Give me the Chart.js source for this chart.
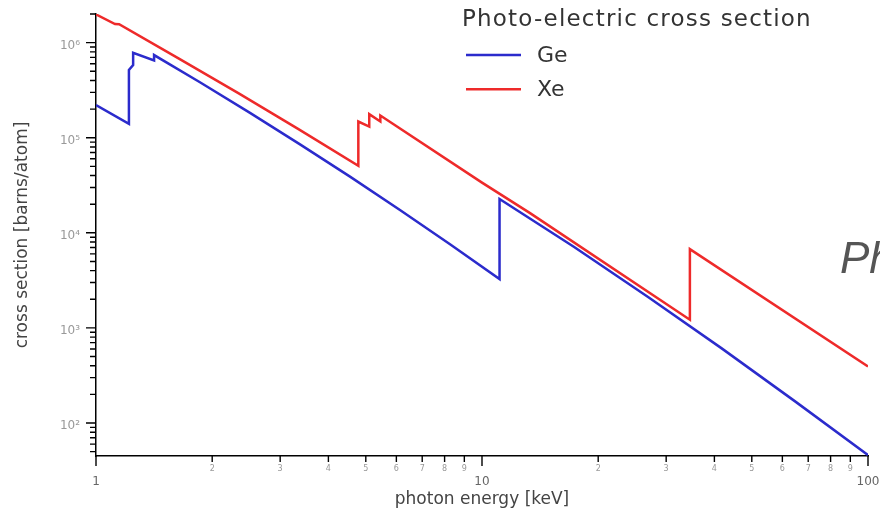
<!DOCTYPE html>
<html>
<head>
<meta charset="utf-8">
<script src="https://cdn.jsdelivr.net/npm/chart.js@4/dist/chart.umd.min.js"></script>
<style>
  html, body { margin: 0; padding: 0; background: #fff; overflow: hidden; }
  #wrap { position: relative; width: 880px; height: 516px; overflow: hidden; background: #fff; }
  #side { position: absolute; left: 840px; top: 236px; font: italic 44px "Liberation Sans", Arial, sans-serif;
          color: #555; line-height: 1; white-space: nowrap; }
</style>
</head>
<body>
<div id="wrap">
  <canvas id="c" width="880" height="516"></canvas>
  <div id="side">Photo</div>
</div>
<script>
// Photon energies [keV] and photo-electric cross sections [barns/atom].
// Repeated energies are absorption edges (vertical jumps).
const geEnergy = [1.0, 1.217, 1.217, 1.248, 1.248, 1.414, 1.414, 1.859, 2.506, 3.377, 4.55, 6.13, 8.263,
                  11.103, 11.103, 17.33, 26.87, 41.69, 64.6, 100];
const geSigma  = [2.21e5, 1.40e5, 5.16e5, 5.8e5, 7.8e5, 6.5e5, 7.4e5, 3.835e5, 1.825e5, 8.51e4, 3.90e4, 1.736e4, 7568,
                  3262, 2.27e4, 7093, 2125, 612.8, 169.9, 46];

const xeEnergy = [1.0, 1.12, 1.148, 1.640, 2.343, 3.346, 4.782, 4.782, 5.104, 5.104, 5.453, 5.453,
                  10, 13.32, 34.56, 34.56, 100];
const xeSigma  = [1.98e6, 1.57e6, 1.56e6, 6.78e5, 2.925e5, 1.231e5, 5.06e4, 1.48e5, 1.31e5, 1.77e5, 1.48e5, 1.71e5,
                  3.37e4, 1.61e4, 1219, 6740, 393];

const seriesNames  = ['Ge', 'Xe'];
const seriesColors = ['#2b2bcc', '#ee2a2a'];
const legendTitle  = 'Photo-electric cross section';
const xTitle = 'photon energy [keV]';
const yTitle = 'cross section [barns/atom]';
const xRange = [1, 100];
const yRange = [45, 2.0e6];

const SUP = '⁰¹²³⁴⁵⁶⁷⁸⁹';
const isPow10 = v => Math.abs(Math.log10(v) - Math.round(Math.log10(v))) < 1e-9;
const supExp = n => String(n).split('').map(d => SUP[+d]).join('');
const significand = v => Math.round(v / Math.pow(10, Math.floor(Math.log10(v) + 1e-9)));

// 1..9 x 10^n ticks covering the scale range
function decadeTicks(min, max) {
  const out = [];
  for (let e = Math.floor(Math.log10(min)); e <= Math.ceil(Math.log10(max)); e++) {
    for (let s = 1; s <= 9; s++) {
      const v = s * Math.pow(10, e);
      if (v >= min * (1 - 1e-9) && v <= max * (1 + 1e-9)) out.push({ value: v, major: s === 1 });
    }
  }
  return out;
}

const toPoints = (xs, ys) => xs.map((x, i) => ({ x, y: ys[i] }));

// outward tick marks: long at decades, short in between
const tickMarks = {
  id: 'tickMarks',
  afterDraw(chart) {
    const { ctx } = chart;
    const xs = chart.scales.x, ys = chart.scales.y;
    ctx.save();
    ctx.strokeStyle = '#000';
    ctx.lineWidth = 1.4;
    ctx.beginPath();
    ys.ticks.forEach(t => {
      const p = ys.getPixelForValue(t.value);
      const len = isPow10(t.value) ? 10 : 6;
      ctx.moveTo(ys.right - len, p); ctx.lineTo(ys.right, p);
    });
    xs.ticks.forEach(t => {
      const p = xs.getPixelForValue(t.value);
      const len = isPow10(t.value) ? 10 : 6;
      ctx.moveTo(p, xs.top); ctx.lineTo(p, xs.top + len);
    });
    ctx.stroke();
    ctx.restore();
  }
};

// legend block inside the upper-right of the plot
const insetLegend = {
  id: 'insetLegend',
  afterDraw(chart) {
    const { ctx } = chart;
    ctx.save();
    ctx.textBaseline = 'middle';
    ctx.fillStyle = '#333';
    ctx.font = '23px "DejaVu Sans", sans-serif';
    ctx.letterSpacing = '1.2px';
    ctx.fillText(legendTitle, 462, 20);
    ctx.letterSpacing = '0px';
    ctx.font = '22px "DejaVu Sans", sans-serif';
    chart.data.datasets.forEach((ds, i) => {
      const y = 55 + i * 34.3;
      ctx.strokeStyle = ds.borderColor;
      ctx.lineWidth = 2.5;
      ctx.beginPath(); ctx.moveTo(466, y); ctx.lineTo(521, y); ctx.stroke();
      ctx.fillStyle = '#333';
      ctx.fillText(ds.label, 537, y + 1);
    });
    ctx.restore();
  }
};

new Chart(document.getElementById('c'), {
  type: 'line',
  data: {
    datasets: [
      { label: seriesNames[0], data: toPoints(geEnergy, geSigma), borderColor: seriesColors[0] },
      { label: seriesNames[1], data: toPoints(xeEnergy, xeSigma), borderColor: seriesColors[1] }
    ]
  },
  options: {
    responsive: false,
    devicePixelRatio: 1,
    animation: false,
    layout: { padding: { left: 0, right: 12, top: 14, bottom: 0 } },
    elements: {
      line: { borderWidth: 2.5, tension: 0, fill: false },
      point: { radius: 0 }
    },
    plugins: { legend: { display: false }, tooltip: { enabled: false } },
    scales: {
      x: {
        type: 'logarithmic',
        min: xRange[0], max: xRange[1],
        afterBuildTicks: s => { s.ticks = decadeTicks(s.min, s.max); },
        afterFit: s => { s.height = 60; },
        grid: { display: false, drawTicks: true, tickLength: 8 },
        border: { display: true, color: '#000', width: 1.5 },
        ticks: {
          autoSkip: false, maxRotation: 0, padding: 0,
          callback: v => isPow10(v) ? ['', String(v)] : String(significand(v)),
          font: c => (c.tick && isPow10(c.tick.value))
            ? { family: '"DejaVu Sans", sans-serif', size: 12, lineHeight: 1 }
            : { family: '"DejaVu Sans", sans-serif', size: 8 },
          color: c => (c.tick && isPow10(c.tick.value)) ? '#666' : '#999'
        },
        title: { display: true, text: xTitle, color: '#444',
                 font: { family: '"DejaVu Sans", sans-serif', size: 17 }, padding: { top: 0, bottom: 6 } }
      },
      y: {
        type: 'logarithmic',
        min: yRange[0], max: yRange[1],
        afterBuildTicks: s => { s.ticks = decadeTicks(s.min, s.max); },
        afterFit: s => { s.width = 96; },
        grid: { display: false, drawTicks: true, tickLength: 10 },
        border: { display: true, color: '#000', width: 1.5 },
        ticks: {
          autoSkip: false, padding: 6, labelOffset: 3,
          callback: v => isPow10(v) ? '10' + supExp(Math.round(Math.log10(v))) : '',
          font: { family: '"DejaVu Sans", sans-serif', size: 12 },
          color: '#999'
        },
        title: { display: true, text: yTitle, color: '#444',
                 font: { family: '"DejaVu Sans", sans-serif', size: 17 }, padding: { top: 12, bottom: 0 } }
      }
    }
  },
  plugins: [tickMarks, insetLegend]
});
</script>
</body>
</html>
